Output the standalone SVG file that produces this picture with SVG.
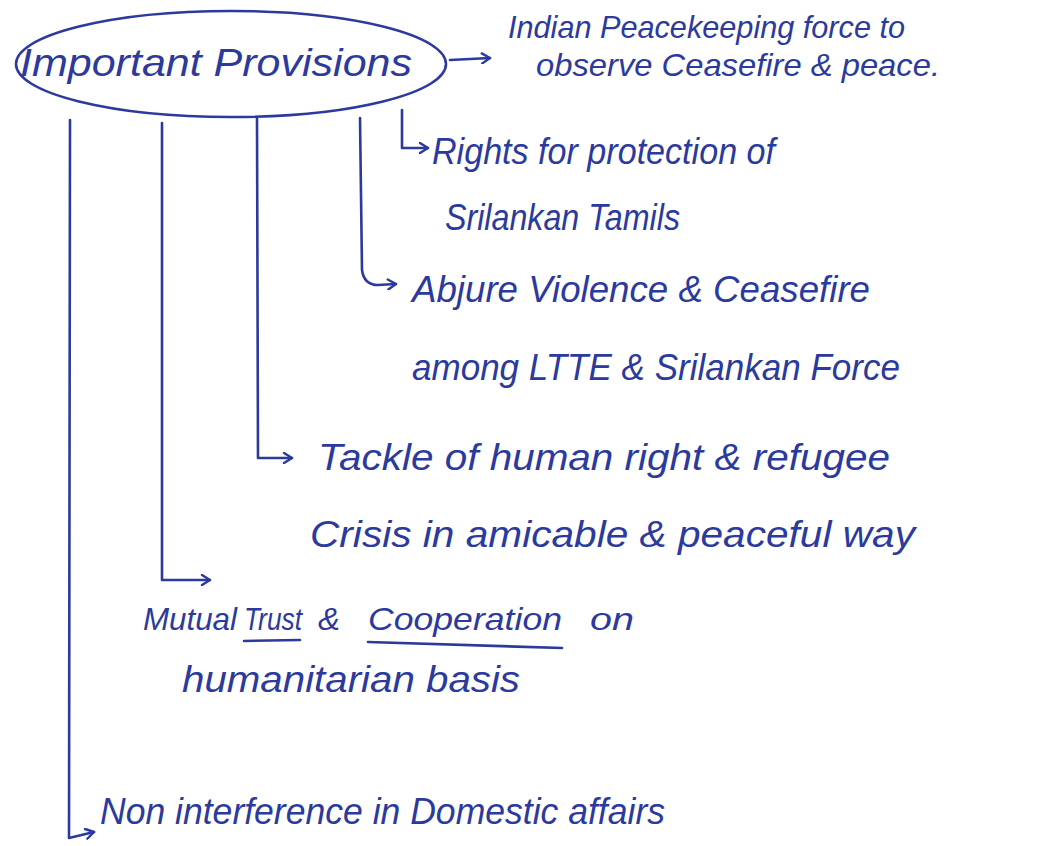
<svg xmlns="http://www.w3.org/2000/svg" width="1050" height="846" viewBox="0 0 1050 846">
<style>
.t{font-family:"Liberation Sans","DejaVu Sans",sans-serif;font-style:italic;font-size:36px;fill:#2b3a9c}
.ttl{font-size:38px}
.s{font-size:32px}
.c{fill:none;stroke:#2b3a9c;stroke-width:2.6;stroke-linecap:round;stroke-linejoin:round}
</style>
<defs>
<marker id="ah" markerWidth="14" markerHeight="12" refX="10" refY="6" orient="auto" markerUnits="userSpaceOnUse">
<path d="M2,1 L10,6 L2,11" fill="none" stroke="#2b3a9c" stroke-width="2.4" stroke-linecap="round" stroke-linejoin="round"/>
</marker>
</defs>
<rect width="1050" height="846" fill="#ffffff"/>
<g id="root">
<ellipse class="c" cx="231" cy="64" rx="215" ry="53"/>
<text class="t ttl" x="20" y="76" textLength="392" lengthAdjust="spacingAndGlyphs">Important Provisions</text>
</g>
<g id="connectors">
<path class="c" d="M450,60 L490,58" marker-end="url(#ah)"/>
<path class="c" d="M402,110 L402,148 L428,148" marker-end="url(#ah)"/>
<path class="c" d="M360,118 L362,270 Q364,285 378,285 L396,284" marker-end="url(#ah)"/>
<path class="c" d="M257,118 L258,458 L292,458" marker-end="url(#ah)"/>
<path class="c" d="M162,123 L162,580 L210,580" marker-end="url(#ah)"/>
<path class="c" d="M70,120 L69,838 L94,832" marker-end="url(#ah)"/>
</g>
<g id="n1">
<text class="t s" x="508" y="38" textLength="397" lengthAdjust="spacingAndGlyphs">Indian Peacekeeping force to</text>
<text class="t s" x="536" y="76" textLength="404" lengthAdjust="spacingAndGlyphs">observe Ceasefire &amp; peace.</text>
</g>
<g id="n2">
<text class="t" x="432" y="164" textLength="343" lengthAdjust="spacingAndGlyphs">Rights for protection of</text>
<text class="t" x="445" y="230" textLength="235" lengthAdjust="spacingAndGlyphs">Srilankan Tamils</text>
</g>
<g id="n3">
<text class="t" x="412" y="302" textLength="458" lengthAdjust="spacingAndGlyphs">Abjure Violence &amp; Ceasefire</text>
<text class="t" x="412" y="380" textLength="488" lengthAdjust="spacingAndGlyphs">among LTTE &amp; Srilankan Force</text>
</g>
<g id="n4">
<text class="t" x="318" y="470" textLength="572" lengthAdjust="spacingAndGlyphs">Tackle of human right &amp; refugee</text>
<text class="t" x="310" y="547" textLength="605" lengthAdjust="spacingAndGlyphs">Crisis in amicable &amp; peaceful way</text>
</g>
<g id="n5">
<text class="t s" y="630"><tspan x="143" textLength="94" lengthAdjust="spacingAndGlyphs">Mutual</tspan><tspan x="244" textLength="58" lengthAdjust="spacingAndGlyphs">Trust</tspan><tspan x="318" textLength="22" lengthAdjust="spacingAndGlyphs">&amp;</tspan><tspan x="368" textLength="194" lengthAdjust="spacingAndGlyphs">Cooperation</tspan><tspan x="590" textLength="44" lengthAdjust="spacingAndGlyphs">on</tspan></text>
<path class="c" d="M244,641 L300,640"/>
<path class="c" d="M368,642 L562,648"/>
<text class="t" x="182" y="692" textLength="338" lengthAdjust="spacingAndGlyphs">humanitarian basis</text>
</g>
<g id="n6">
<text class="t" x="100" y="824" textLength="565" lengthAdjust="spacingAndGlyphs">Non interference in Domestic affairs</text>
</g>
</svg>
